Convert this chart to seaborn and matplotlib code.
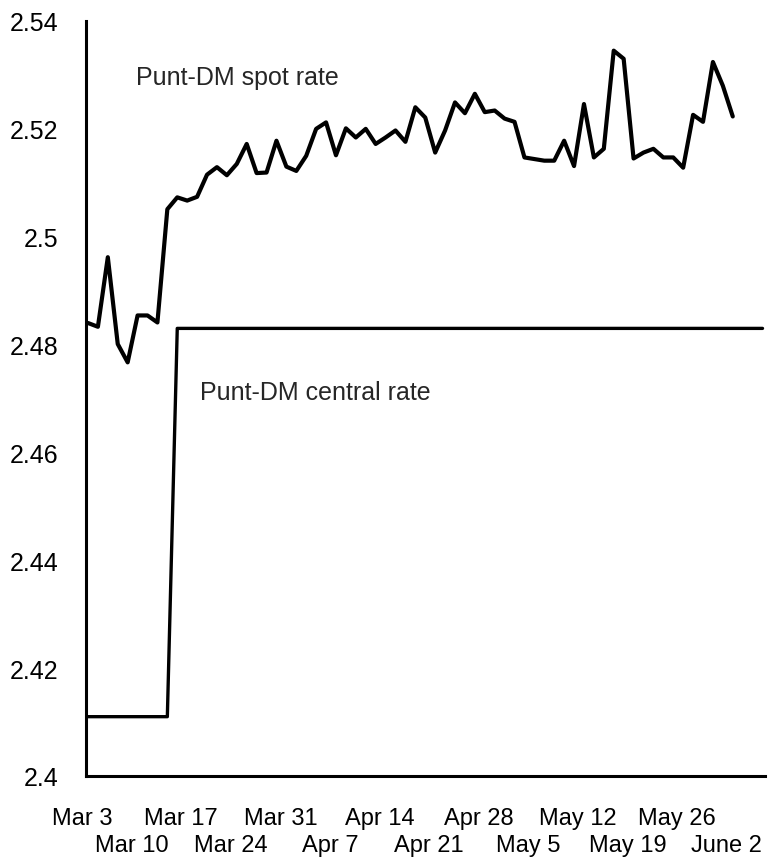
import matplotlib
matplotlib.use("Agg")
import matplotlib.pyplot as plt
from matplotlib.transforms import ScaledTranslation
import seaborn as sns
import pandas as pd
import numpy as np

# ---- data (business-day index from Mar 3) ----
spot_rate = [2.4840, 2.4833, 2.4962, 2.4801, 2.4767, 2.4854, 2.4854, 2.4841,
             2.5051, 2.5073, 2.5067, 2.5074, 2.5115, 2.5129, 2.5114, 2.5135,
             2.5172, 2.5118, 2.5119, 2.5178, 2.5130, 2.5122, 2.5150, 2.5200,
             2.5212, 2.5151, 2.5201, 2.5184, 2.5200, 2.5172, 2.5184, 2.5197,
             2.5176, 2.5240, 2.5221, 2.5156, 2.5197, 2.5249, 2.5229, 2.5265,
             2.5231, 2.5234, 2.5219, 2.5213, 2.5147, 2.5144, 2.5141, 2.5141,
             2.5178, 2.5131, 2.5246, 2.5147, 2.5163, 2.5345, 2.5330, 2.5145,
             2.5156, 2.5163, 2.5147, 2.5147, 2.5128, 2.5226, 2.5213, 2.5324,
             2.5280, 2.5223]
central_day = [0, 8, 9, 68]
central_rate = [2.411, 2.411, 2.483, 2.483]
tick_days = [0, 5, 10, 15, 20, 25, 30, 35, 40, 45, 50, 55, 60, 65]
tick_labels = ["Mar 3", "Mar 10", "Mar 17", "Mar 24", "Mar 31", "Apr 7",
               "Apr 14", "Apr 21", "Apr 28", "May 5", "May 12", "May 19",
               "May 26", "June 2"]
y_ticks = [2.4, 2.42, 2.44, 2.46, 2.48, 2.5, 2.52, 2.54]
y_tick_labels = ["2.4", "2.42", "2.44", "2.46", "2.48", "2.5", "2.52", "2.54"]

spot_df = pd.DataFrame({"day": np.arange(len(spot_rate)), "rate": spot_rate})
central_df = pd.DataFrame({"day": central_day, "rate": central_rate})

sns.set_style("white")
plt.rcParams["font.family"] = ["Liberation Sans", "DejaVu Sans"]

W, H = 769, 862
fig = plt.figure(figsize=(W / 100, H / 100), dpi=100)
ax = fig.add_axes([86 / W, 85 / H, (765 - 86) / W, (777 - 22) / H])

sns.lineplot(data=spot_df, x="day", y="rate", ax=ax, color="black",
             linewidth=3.0, estimator=None)
sns.lineplot(data=central_df, x="day", y="rate", ax=ax, color="black",
             linewidth=2.4, estimator=None)

ax.set_xlim(-0.2, 68.25)
ax.set_ylim(2.4, 2.54)
ax.set_xlabel("")
ax.set_ylabel("")

for side in ["top", "right"]:
    ax.spines[side].set_visible(False)
for side in ["left", "bottom"]:
    ax.spines[side].set_linewidth(2.2)
    ax.spines[side].set_color("black")

ax.set_yticks(y_ticks)
ax.set_yticklabels(y_tick_labels)
ax.set_xticks(tick_days)
ax.set_xticklabels(tick_labels)
ax.tick_params(axis="y", length=0, pad=20, labelsize=18, colors="black")
ax.tick_params(axis="x", length=0, pad=30, labelsize=17, colors="black")
for i, lab in enumerate(ax.get_xticklabels()):
    dy = 0 if i % 2 == 0 else -27
    off = ScaledTranslation(-6 / 100, dy / 100, fig.dpi_scale_trans)
    lab.set_transform(lab.get_transform() + off)
    lab.set_va("center")

ax.text(4.8, 2.5296, "Punt-DM spot rate", fontsize=18, va="center", ha="left")
ax.text(11.3, 2.4712, "Punt-DM central rate", fontsize=18, va="center",
        ha="left")

fig.savefig("out.png", dpi=100)
